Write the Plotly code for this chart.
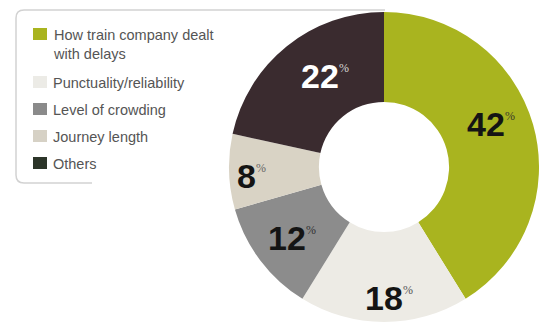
import math
import plotly.graph_objects as go

categories = ["How train company dealt<br>with delays", "Punctuality/reliability",
              "Level of crowding", "Journey length", "Others"]
values = [42, 18, 12, 8, 22]

colors = ["#a9b41f", "#edebe5", "#8c8c8c", "#d9d3c5", "#3a2b2f"]
swatch_colors = ["#a9b41f", "#ecebe6", "#8a8a8a", "#d6d1c5", "#2c3529"]
text_colors = ["#141414", "#141414", "#141414", "#141414", "#ffffff"]
pct_colors = ["#3a3a2a", "#555555", "#333333", "#666666", "#d8d8d8"]
# label placement inside each slice: fraction of angular span, fraction of radius
label_span_frac = [0.452, 0.50, 0.52, 0.43, 0.55]
label_rad_frac = [0.715, 0.845, 0.776, 0.886, 0.72]

W, H = 539, 324


def px(x):
    return min(max(x / W, 0), 1)


def py(y):
    return min(max(1 - y / H, 0), 1)


# pie geometry (pixels)
cx, cy, R = 384, 167, 155
hole = 0.42

fig = go.Figure()
fig.add_trace(go.Pie(
    labels=categories,
    values=values,
    sort=False,
    direction="clockwise",
    rotation=0,
    hole=hole,
    marker=dict(colors=colors, line=dict(width=0)),
    textinfo="none",
    hoverinfo="label+percent",
    domain=dict(x=[px(cx - R), px(cx + R)], y=[py(cy + R), py(cy - R)]),
    showlegend=False,
))

# value labels
total = sum(values)
cum = 0
for v, tc, pc, sf, rf in zip(values, text_colors, pct_colors, label_span_frac, label_rad_frac):
    a0 = cum / total * 360
    a1 = (cum + v) / total * 360
    cum += v
    ang = math.radians(a0 + (a1 - a0) * sf)
    lx = cx + R * rf * math.sin(ang)
    ly = cy - R * rf * math.cos(ang)
    s = str(v)
    fig.add_annotation(x=px(lx), y=py(ly), xref="paper", yref="paper",
                       text="<b>%s</b>" % s, showarrow=False,
                       xanchor="center", yanchor="middle",
                       font=dict(family="Liberation Sans", size=34, color=tc))
    half_w = len(s) * 0.556 * 34 / 2
    fig.add_annotation(x=px(lx + half_w - 2), y=py(ly - 8), xref="paper", yref="paper",
                       text="%", showarrow=False, xanchor="left", yanchor="middle",
                       font=dict(family="Liberation Sans Narrow", size=12, color=pc))

# legend box border (rounded left corners)
r = 8
x0, x1, y0, y1, xb = 16, 385, 10, 183, 92
path = (
    f"M {px(x1)},{py(y0)} L {px(x0 + r)},{py(y0)} "
    f"Q {px(x0)},{py(y0)} {px(x0)},{py(y0 + r)} "
    f"L {px(x0)},{py(y1 - r)} "
    f"Q {px(x0)},{py(y1)} {px(x0 + r)},{py(y1)} "
    f"L {px(xb)},{py(y1)}"
)
fig.add_shape(type="path", path=path, xref="paper", yref="paper",
              line=dict(color="#d2d2d2", width=1.5), layer="below")

# manual legend
y = 34
line_h = 17
gap = 27
for cat, col in zip(categories, swatch_colors):
    nlines = cat.count("<br>") + 1
    fig.add_shape(type="rect", xref="paper", yref="paper",
                  x0=px(33), x1=px(47), y0=py(y - 6), y1=py(y + 6),
                  fillcolor=col, line=dict(width=0))
    fig.add_annotation(x=px(51), y=py(y - 9), xref="paper", yref="paper",
                       text=cat, showarrow=False, xanchor="left", yanchor="top",
                       align="left",
                       font=dict(family="Liberation Sans", size=14.5, color="#555555"))
    y += gap + (nlines - 1) * line_h + (4 if nlines > 1 else 0)

fig.update_layout(
    width=W, height=H,
    margin=dict(l=0, r=0, t=0, b=0),
    paper_bgcolor="white",
    plot_bgcolor="white",
)

fig.write_html("out.html", config={"displayModeBar": False},
               post_script="document.body.style.margin='0';")
